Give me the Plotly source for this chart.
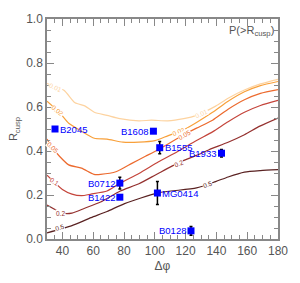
import plotly.graph_objects as go

# ---- contour levels P(>R_cusp) ----
levels = ["0.01", "0.02", "0.05", "0.1", "0.2", "0.5"]
level_colors = ["#FDD3A0", "#F8A03A", "#EC6A2E", "#C4443A", "#94302E", "#5A2222"]

c001_x = [30, 41, 48.2, 54.5, 60.7, 69, 77.3, 89.7, 97.8, 108.4, 118.8, 127.1, 139.5, 147.6, 158.2, 168.6, 180]
c001_y = [0.707, 0.676, 0.619, 0.605, 0.576, 0.562, 0.547, 0.537, 0.540, 0.537, 0.547, 0.562, 0.604, 0.640, 0.677, 0.705, 0.726]

c002_x = [30, 37.9, 44.1, 52.4, 60.7, 69, 79.3, 89.7, 100.1, 108.4, 118.8, 127.1, 137.5, 147.6, 158.2, 168.6, 180]
c002_y = [0.626, 0.576, 0.526, 0.49, 0.458, 0.454, 0.44, 0.44, 0.447, 0.469, 0.497, 0.53, 0.576, 0.626, 0.669, 0.697, 0.716]

c005_x = [30, 33.7, 38.1, 44.1, 52.4, 60.5, 64.8, 75.2, 85.4, 93.9, 102.2, 118.8, 127.1, 137.5, 147.6, 158.2, 168.6, 180]
c005_y = [0.454, 0.414, 0.376, 0.337, 0.322, 0.294, 0.294, 0.307, 0.345, 0.376, 0.406, 0.474, 0.504, 0.540, 0.59, 0.633, 0.662, 0.679]

c01_x = [30, 40, 46.2, 52.4, 58.6, 69, 77.3, 89.7, 102.2, 114.6, 127.1, 137.5, 147.6, 158.2, 168.6, 180]
c01_y = [0.29, 0.225, 0.204, 0.197, 0.204, 0.218, 0.253, 0.298, 0.35, 0.397, 0.448, 0.487, 0.533, 0.576, 0.607, 0.630]

c02_x = [30, 40, 46.2, 54.5, 64.8, 77.3, 89.7, 102.2, 117.7, 127.1, 135.2, 147.6, 158.2, 168.2, 180]
c02_y = [0.154, 0.118, 0.118, 0.14, 0.168, 0.217, 0.251, 0.298, 0.354, 0.380, 0.406, 0.440, 0.474, 0.513, 0.550]

c05_x = [30, 46.2, 58.6, 69, 80.4, 102.2, 127.1, 139.5, 147.6, 158.2, 168.6, 180]
c05_y = [0.028, 0.061, 0.097, 0.125, 0.161, 0.210, 0.232, 0.261, 0.282, 0.304, 0.311, 0.315]

contours_x = [c001_x, c002_x, c005_x, c01_x, c02_x, c05_x]
contours_y = [c001_y, c002_y, c005_y, c01_y, c02_y, c05_y]

# contour label positions (level index, x, y, angle)
clabel_level = [0, 0, 1, 1, 2, 2, 3, 4, 4, 5, 5]
clabel_x = [35.6, 130.2, 36.8, 115.7, 33.7, 119.6, 34.8, 38.7, 115.5, 37.9, 134.0]
clabel_y = [0.689, 0.569, 0.583, 0.49, 0.414, 0.474, 0.262, 0.118, 0.345, 0.054, 0.247]
clabel_ang = [25, -25, 40, -20, 45, -30, 35, 0, -22, -15, -18]

# ---- lenses ----
lens_names = ["B2045", "B1608", "B1555", "B1933", "MG0414", "B0128", "B0712", "B1422"]
lens_dphi = [35.2, 99.1, 103.2, 143.3, 101.7, 123.5, 77.3, 77.3]
lens_rcusp = [0.50, 0.49, 0.415, 0.39, 0.209, 0.037, 0.254, 0.19]
lens_err = [0.01, 0.0, 0.028, 0.017, 0.052, 0.02, 0.027, 0.0]
lens_side = ["right", "left", "right", "left", "right", "left", "left", "left"]

x_tickvals = [40, 60, 80, 100, 120, 140, 160, 180]
y_tickvals = [0.0, 0.2, 0.4, 0.6, 0.8, 1.0]

fig = go.Figure()
for xs, ys, col in zip(contours_x, contours_y, level_colors):
    fig.add_trace(go.Scatter(x=xs, y=ys, mode="lines",
                             line=dict(color=col, width=1.2, shape="spline", smoothing=0.6),
                             hoverinfo="skip", showlegend=False))

for li, lx, ly, la in zip(clabel_level, clabel_x, clabel_y, clabel_ang):
    fig.add_annotation(x=lx, y=ly, text=levels[li], showarrow=False, textangle=la,
                       font=dict(size=6.5, color=level_colors[li], family="Liberation Sans"),
                       bgcolor="white", borderpad=0)

fig.add_trace(go.Scatter(
    x=lens_dphi, y=lens_rcusp, mode="markers",
    marker=dict(symbol="square", size=7, color="#0000FF", line=dict(width=0)),
    error_y=dict(type="data", array=lens_err, visible=True, color="black",
                 thickness=1.5, width=1.5),
    showlegend=False))

for name, lx, ly, side in zip(lens_names, lens_dphi, lens_rcusp, lens_side):
    fig.add_annotation(x=lx, y=ly, text=name, showarrow=False,
                       xanchor="left" if side == "right" else "right",
                       xshift=3 if side == "right" else -3,
                       font=dict(size=9.5, color="#0000FF", family="Liberation Sans"))

axis_common = dict(showline=True, linecolor="#888888", linewidth=1.5, mirror="allticks",
                   ticks="inside", ticklen=7, tickwidth=1, tickcolor="#888888",
                   showgrid=False, zeroline=False, ticklabeloverflow="allow",
                   tickfont=dict(size=12, color="#555555", family="Liberation Sans"))

fig.update_xaxes(range=[30, 180], tickvals=x_tickvals,
                 minor=dict(dtick=5, tick0=30, ticks="inside", ticklen=4, tickcolor="#888888"),
                 title=dict(text="Δφ", font=dict(size=12, color="#555555", family="Liberation Sans"),
                            standoff=4),
                 **axis_common)
fig.update_yaxes(range=[0, 1], tickvals=y_tickvals, tickformat=".1f",
                 minor=dict(dtick=0.05, tick0=0, ticks="inside", ticklen=4, tickcolor="#888888"),
                 title=dict(text="R<sub>cusp</sub>", font=dict(size=11, color="#555555", family="Liberation Sans"),
                            standoff=6),
                 **axis_common)

fig.add_annotation(xref="paper", yref="paper", x=0.99, y=0.985, xanchor="right", yanchor="top",
                   text="P(>R<sub>cusp</sub>)", showarrow=False,
                   font=dict(size=11, color="#555555", family="Liberation Sans"))

fig.update_layout(width=300, height=283, margin=dict(l=45, r=15, t=14, b=35),
                  plot_bgcolor="white", paper_bgcolor="white")

fig.write_html("out.html", config={"displayModeBar": False},
               post_script="document.body.style.margin='0';document.body.style.overflow='hidden';")
